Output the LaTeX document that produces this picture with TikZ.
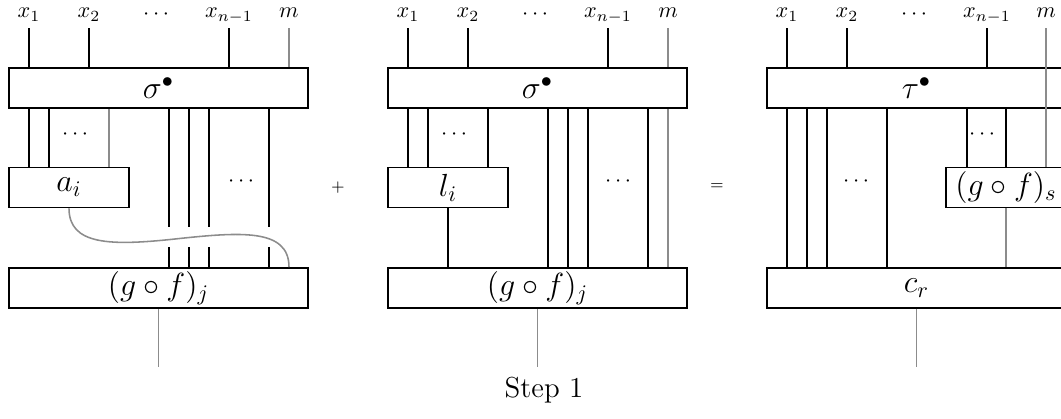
\documentclass[tikz,border=0pt]{standalone}
\usepackage{amsmath, amssymb}
\usepackage{tikz}

\begin{document}
\begin{tikzpicture}[x=0.45pt, y=-0.45pt,
        box/.style={draw, line width=0.8pt, inner sep=0pt, minimum height=18pt, font=\Large},
        widebox/.style={box, minimum width=134.55pt},
        smallbox/.style={box, minimum width=54pt},
        wire/.style={line width=0.8pt},
        gwire/.style={line width=0.7pt, black!45},
        lbl/.style={anchor=base, inner sep=2.5pt, text depth=2pt},
        wdots/.style={inner sep=0pt}]
    \useasboundingbox (0,0) rectangle (1061,419);

    % left: a_i plugged into (g o f)_j
    \node[lbl] (x1A) at (29,18) {$x_1$};
    \node[lbl] (x2A) at (89,18) {$x_2$};
    \node[wdots] (dtA) at (158,15) {$\cdots$};
    \node[lbl] (xnA) at (229,18) {$x_{n-1}$};
    \node[lbl] (mA) at (289,18) {$m$};

    \node[widebox] (sigA) at (158.5,88) {$\sigma^\bullet$};
    \node[smallbox] (aiA) at (69,187.5) {$a_i$};
    \node[widebox] (gfA) at (158.5,288) {$(g\circ f)_j$};
    \coordinate (outA) at (158.5,367);

    \foreach \lab in {x1A,x2A,xnA}
        \draw[wire] (\lab.south) -- (\lab.south |- sigA.north);
    \draw[gwire] (mA.south) -- (mA.south |- sigA.north);

    \foreach \xx in {29,49}
        \draw[wire] (sigA.south -| \xx,0) -- (aiA.north -| \xx,0);
    \draw[gwire] (sigA.south -| 109,0) -- (aiA.north -| 109,0);
    \node[wdots] (d1A) at (77,135) {$\cdots$};

    \foreach \xx in {169,189,209,269}
        \draw[wire] (sigA.south -| \xx,0) -- (\xx,227) (\xx,247) -- (gfA.north -| \xx,0);
    \node[wdots] (d2A) at (243,182) {$\cdots$};

    \draw[gwire] (aiA.south) .. controls (69,245) and (110,246) .. (175,239)
        .. controls (240,232) and (289,228) .. (gfA.north -| 289,0);
    \draw[gwire] (gfA.south) -- (outA);

    \node[font=\scriptsize] (plus) at (338,188) {$+$};

    % middle: l_i plugged into (g o f)_j
    \node[lbl] (x1B) at (408,18) {$x_1$};
    \node[lbl] (x2B) at (468,18) {$x_2$};
    \node[wdots] (dtB) at (537,15) {$\cdots$};
    \node[lbl] (xnB) at (608,18) {$x_{n-1}$};
    \node[lbl] (mB) at (668,18) {$m$};

    \node[widebox] (sigB) at (537.5,88) {$\sigma^\bullet$};
    \node[smallbox] (liB) at (448,187.5) {$l_i$};
    \node[widebox] (gfB) at (537.5,288) {$(g\circ f)_j$};
    \coordinate (outB) at (537.5,367);

    \foreach \lab in {x1B,x2B,xnB}
        \draw[wire] (\lab.south) -- (\lab.south |- sigB.north);
    \draw[gwire] (mB.south) -- (mB.south |- sigB.north);

    \foreach \xx in {408,428,488}
        \draw[wire] (sigB.south -| \xx,0) -- (liB.north -| \xx,0);
    \node[wdots] (d1B) at (456,135) {$\cdots$};
    \draw[wire] (liB.south) -- (liB.south |- gfB.north);

    \foreach \xx in {548,568,588,648}
        \draw[wire] (sigB.south -| \xx,0) -- (gfB.north -| \xx,0);
    \draw[gwire] (sigB.south -| 668,0) -- (gfB.north -| 668,0);
    \node[wdots] (d2B) at (620,182) {$\cdots$};
    \draw[gwire] (gfB.south) -- (outB);

    \node[anchor=base, font=\fontsize{13}{15}\selectfont] (step) at (544,398) {Step 1};

    \node[font=\scriptsize] (eq) at (717,187) {$=$};

    % right: tau with (g o f)_s and c_r
    \node[lbl] (x1C) at (787,18) {$x_1$};
    \node[lbl] (x2C) at (847,18) {$x_2$};
    \node[wdots] (dtC) at (916,15) {$\cdots$};
    \node[lbl] (xnC) at (987,18) {$x_{n-1}$};
    \node[lbl] (mC) at (1046,18) {$m$};

    \node[widebox] (tauC) at (916.5,88) {$\tau^\bullet$};
    \node[smallbox] (gfsC) at (1006,187.5) {$(g\circ f)_s$};
    \node[widebox] (crC) at (916.5,288) {$c_r$};
    \coordinate (outC) at (916.5,367);

    \foreach \lab in {x1C,x2C,xnC}
        \draw[wire] (\lab.south) -- (\lab.south |- tauC.north);
    \draw[gwire] (mC.south) -- (mC.south |- gfsC.north);

    \foreach \xx in {787,807,827,887}
        \draw[wire] (tauC.south -| \xx,0) -- (crC.north -| \xx,0);
    \node[wdots] (d1C) at (858,182) {$\cdots$};
    \foreach \xx in {967,1006}
        \draw[wire] (tauC.south -| \xx,0) -- (gfsC.north -| \xx,0);
    \node[wdots] (d2C) at (984,135) {$\cdots$};
    \draw[gwire] (gfsC.south) -- (gfsC.south |- crC.north);
    \draw[gwire] (crC.south) -- (outC);
\end{tikzpicture}
\end{document}
